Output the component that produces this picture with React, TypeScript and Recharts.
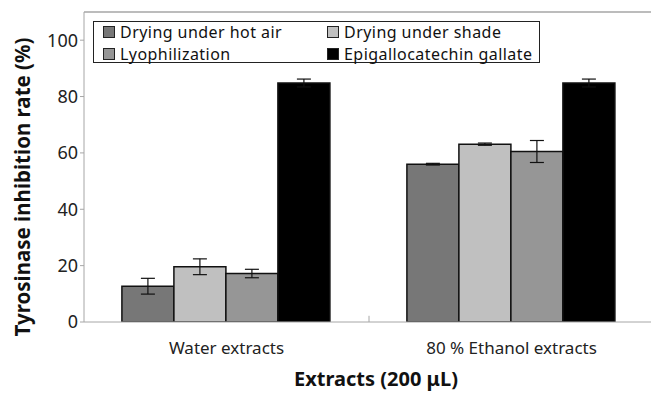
import React from "react";
import { BarChart, Bar, XAxis, YAxis, ErrorBar, ReferenceLine } from "recharts";

const categories = ["Water extracts", "80 % Ethanol extracts"];
const seriesNames = ["Drying under hot air", "Drying under shade", "Lyophilization", "Epigallocatechin gallate"];
const hotAir = [12.7, 56.0];
const hotAirErr = [2.8, 0.3];
const shade = [19.6, 63.1];
const shadeErr = [2.8, 0.4];
const lyo = [17.2, 60.5];
const lyoErr = [1.5, 3.9];
const egcg = [84.8, 84.8];
const egcgErr = [1.4, 1.4];
const yTicks = [0, 20, 40, 60, 80, 100];
const colors = ["#777777", "#c0c0c0", "#969696", "#000000"];

const data = categories.map((c, i) => ({
  name: c,
  hotAir: hotAir[i], hotAirErr: hotAirErr[i],
  shade: shade[i], shadeErr: shadeErr[i],
  lyo: lyo[i], lyoErr: lyoErr[i],
  egcg: egcg[i], egcgErr: egcgErr[i],
}));

const FONT = "'Noto Sans', 'Open Sans', sans-serif";

const LegendBox = () => {
  const order = [0, 1, 2, 3];
  return (
    <div style={{ position: "absolute", left: 93, top: 21, border: "1px solid #222", width: 447, height: 42, boxSizing: "border-box", background: "#fff", fontFamily: FONT, fontSize: 16, letterSpacing: "0.45px", color: "#111" }}>
      {order.map((i) => {
        const col = i % 2;
        const row = Math.floor(i / 2);
        return (
          <div key={i} style={{ position: "absolute", left: col === 0 ? 9 : 233, top: row === 0 ? -1 : 21, height: 22, display: "flex", alignItems: "center", whiteSpace: "nowrap", lineHeight: "16px" }}>
            <span style={{ display: "inline-block", width: 10, height: 10, background: colors[i], border: "1px solid #222", marginRight: 5 }} />
            <span style={{ lineHeight: "16px" }}>{seriesNames[i]}</span>
          </div>
        );
      })}
    </div>
  );
};

const YLabel = () => (
  <text x={22} y={187} transform="rotate(-90 22 187)" textAnchor="middle" dominantBaseline="central" fontFamily={FONT} fontWeight="bold" fontSize={20.5} fill="#111">
    Tyrosinase inhibition rate (%)
  </text>
);

const XLabel = () => (
  <text x={376} y={378} textAnchor="middle" dominantBaseline="central" fontFamily={FONT} fontWeight="bold" fontSize={20} fill="#111">
    Extracts (200 μL)
  </text>
);

export default function App() {
  return (
    <div style={{ position: "fixed", left: 0, top: 0, width: 651, height: 394, overflow: "hidden", background: "#fff" }}>
      <BarChart width={660} height={394} data={data} margin={{ top: 12, right: 6, left: 0, bottom: 22 }} barCategoryGap="13.3%" barGap={0}>
        <XAxis dataKey="name" height={50} stroke="#a6a6a6" tickLine={false} tick={{ fill: "#222", fontSize: 17, fontFamily: FONT, dy: 12 }} label={<XLabel />} />
        <YAxis width={84} domain={[0, 110]} ticks={yTicks} stroke="#a6a6a6" tickSize={4} tick={{ fill: "#222", fontSize: 18, fontFamily: FONT }} allowDataOverflow label={<YLabel />} />
        <ReferenceLine y={110} stroke="#a6a6a6" strokeWidth={1.5} />
        <ReferenceLine segment={[{ x: categories[1], y: 0 }, { x: categories[1], y: 2.2 }]} position="start" stroke="#a6a6a6" />
        <Bar dataKey="hotAir" name={seriesNames[0]} fill={colors[0]} stroke="#111" strokeWidth={1.5} isAnimationActive={false}>
          <ErrorBar dataKey="hotAirErr" width={7} stroke="#111" strokeWidth={1.2} />
        </Bar>
        <Bar dataKey="shade" name={seriesNames[1]} fill={colors[1]} stroke="#111" strokeWidth={1.5} isAnimationActive={false}>
          <ErrorBar dataKey="shadeErr" width={7} stroke="#111" strokeWidth={1.2} />
        </Bar>
        <Bar dataKey="lyo" name={seriesNames[2]} fill={colors[2]} stroke="#111" strokeWidth={1.5} isAnimationActive={false}>
          <ErrorBar dataKey="lyoErr" width={7} stroke="#111" strokeWidth={1.2} />
        </Bar>
        <Bar dataKey="egcg" name={seriesNames[3]} fill={colors[3]} stroke="#111" strokeWidth={1.5} isAnimationActive={false}>
          <ErrorBar dataKey="egcgErr" width={7} stroke="#111" strokeWidth={1.2} />
        </Bar>
      </BarChart>
      <LegendBox />
    </div>
  );
}
